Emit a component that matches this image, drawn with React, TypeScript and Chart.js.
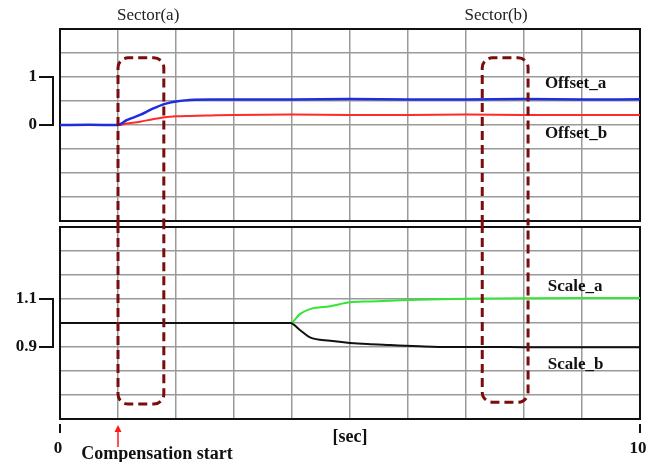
import { useEffect, useRef } from 'react';
import { Chart, registerables } from 'chart.js';

Chart.register(...registerables);

// ---- data ----
const offsetTime = [0, 0.5, 1.0, 1.15, 1.38, 1.6, 1.81, 2.0, 2.24, 2.6, 3, 4, 5, 6, 7, 8, 9, 10];
const offsetA = [0, 0.005, 0, 0.1, 0.21, 0.34, 0.44, 0.49, 0.52, 0.53, 0.53, 0.53, 0.54, 0.53, 0.53, 0.54, 0.53, 0.535];
const offsetB = [0, 0, 0, 0.03, 0.07, 0.12, 0.16, 0.18, 0.19, 0.2, 0.21, 0.22, 0.21, 0.21, 0.22, 0.21, 0.21, 0.21];

const scaleTime = [0, 1, 2, 3, 3.97, 4.14, 4.31, 4.66, 5.0, 5.3, 5.69, 6.2, 6.72, 7.5, 8, 9, 10];
const scaleA = [1, 1, 1, 1, 1, 1.038, 1.058, 1.07, 1.086, 1.09, 1.093, 1.097, 1.1, 1.102, 1.103, 1.104, 1.104];
const scaleB = [1, 1, 1, 1, 1, 0.97, 0.94, 0.926, 0.917, 0.912, 0.908, 0.903, 0.9, 0.9, 0.899, 0.899, 0.899];

const sectors = [
  { name: 'Sector(a)', from: 1.0, to: 1.79, labelX: 1.52 },
  { name: 'Sector(b)', from: 7.28, to: 8.07, labelX: 7.52 },
];
const compensationStart = 1.0;

const FONT = "'Liberation Serif', 'Times New Roman', serif";
const BOX_COLOR = '#7a0c0c';
const GRID_COLOR = '#9a9a9a';

const W = 653;
const TOP_H = 224;
const BOT_H = 238;

function toXY(xs: number[], ys: number[]) {
  return xs.map((x, i) => ({ x, y: ys[i] }));
}

function boxPath(ctx: CanvasRenderingContext2D, x1: number, x2: number, yEdge: number, yOpen: number, r: number) {
  const dir = yOpen > yEdge ? 1 : -1;
  ctx.beginPath();
  ctx.moveTo(x1, yOpen);
  ctx.lineTo(x1, yEdge + dir * r);
  ctx.arcTo(x1, yEdge, x1 + r, yEdge, r);
  ctx.lineTo(x2 - r, yEdge);
  ctx.arcTo(x2, yEdge, x2, yEdge + dir * r, r);
  ctx.lineTo(x2, yOpen);
  ctx.stroke();
}

function bracket(ctx: CanvasRenderingContext2D, yA: number, yB: number) {
  ctx.save();
  ctx.strokeStyle = '#111';
  ctx.lineWidth = 2;
  ctx.beginPath();
  ctx.moveTo(39, yA);
  ctx.lineTo(53, yA);
  ctx.lineTo(53, yB);
  ctx.lineTo(39, yB);
  ctx.stroke();
  ctx.restore();
}

function frame(chart: any) {
  const { ctx, chartArea: a } = chart;
  ctx.save();
  ctx.strokeStyle = '#111';
  ctx.lineWidth = 2;
  ctx.strokeRect(a.left, a.top, a.right - a.left, a.bottom - a.top);
  ctx.restore();
}

const topPlugin = {
  id: 'topDecor',
  beforeDatasetsDraw(chart: any) {
    frame(chart);
  },
  afterDraw(chart: any) {
    const { ctx } = chart;
    const xs = chart.scales.x;
    const ys = chart.scales.y;
    bracket(ctx, ys.getPixelForValue(1), ys.getPixelForValue(0));
    ctx.save();
    ctx.fillStyle = '#222';
    ctx.font = `17px ${FONT}`;
    ctx.textAlign = 'center';
    ctx.textBaseline = 'middle';
    sectors.forEach((s) => ctx.fillText(s.name, xs.getPixelForValue(s.labelX), 16));
    ctx.strokeStyle = BOX_COLOR;
    ctx.lineWidth = 3;
    ctx.setLineDash([9, 5]);
    sectors.forEach((s) =>
      boxPath(ctx, xs.getPixelForValue(s.from), xs.getPixelForValue(s.to), ys.getPixelForValue(1.4), chart.height, 10)
    );
    ctx.setLineDash([]);
    ctx.fillStyle = '#111';
    ctx.font = `bold 17px ${FONT}`;
    ctx.textAlign = 'left';
    ctx.fillText('Offset_a', xs.getPixelForValue(8.36), ys.getPixelForValue(0.87));
    ctx.fillText('Offset_b', xs.getPixelForValue(8.36), ys.getPixelForValue(-0.17));
    ctx.restore();
  },
};

const bottomPlugin = {
  id: 'bottomDecor',
  beforeDatasetsDraw(chart: any) {
    frame(chart);
  },
  afterDraw(chart: any) {
    const { ctx, chartArea } = chart;
    const xs = chart.scales.x;
    const ys = chart.scales.y;
    bracket(ctx, ys.getPixelForValue(1.1), ys.getPixelForValue(0.9));
    ctx.save();
    ctx.strokeStyle = BOX_COLOR;
    ctx.lineWidth = 3;
    ctx.setLineDash([9, 5]);
    sectors.forEach((s, i) =>
      boxPath(ctx, xs.getPixelForValue(s.from), xs.getPixelForValue(s.to), ys.getPixelForValue(i === 0 ? 0.662 : 0.67), 0, 10)
    );
    ctx.setLineDash([]);
    // end tick marks
    ctx.strokeStyle = '#111';
    ctx.lineWidth = 2;
    [0, 10].forEach((v) => {
      const x = xs.getPixelForValue(v);
      ctx.beginPath();
      ctx.moveTo(x, chartArea.bottom + 5);
      ctx.lineTo(x, chartArea.bottom + 14);
      ctx.stroke();
    });
    // arrow
    const ax = xs.getPixelForValue(compensationStart);
    const tip = chartArea.bottom + 6;
    ctx.strokeStyle = '#ff1a1a';
    ctx.fillStyle = '#ff1a1a';
    ctx.lineWidth = 1.5;
    ctx.beginPath();
    ctx.moveTo(ax, tip + 3);
    ctx.lineTo(ax, tip + 22);
    ctx.stroke();
    ctx.beginPath();
    ctx.moveTo(ax, tip);
    ctx.lineTo(ax - 3.5, tip + 7);
    ctx.lineTo(ax + 3.5, tip + 7);
    ctx.closePath();
    ctx.fill();
    ctx.fillStyle = '#111';
    ctx.font = `bold 18px ${FONT}`;
    ctx.textAlign = 'center';
    ctx.textBaseline = 'middle';
    ctx.fillText('Compensation start', 157, chartArea.bottom + 35);
    ctx.fillText('[sec]', xs.getPixelForValue(5.0), chartArea.bottom + 18);
    ctx.font = `bold 17px ${FONT}`;
    ctx.textAlign = 'left';
    ctx.fillText('Scale_a', xs.getPixelForValue(8.41), ys.getPixelForValue(1.15));
    ctx.fillText('Scale_b', xs.getPixelForValue(8.41), ys.getPixelForValue(0.825));
    ctx.restore();
  },
};

function zeroPad(s: any) {
  s.paddingTop = 0;
  s.paddingBottom = 0;
  s.paddingLeft = 0;
  s.paddingRight = 0;
}

function xAxis(showLabels: boolean, h: number) {
  return {
    type: 'linear',
    min: 0,
    max: 10,
    ticks: {
      display: showLabels,
      stepSize: 1,
      autoSkip: false,
      maxRotation: 0,
      padding: 19,
      labelOffset: -2,
      color: '#111',
      font: { family: FONT, size: 17, weight: 'bold' },
      callback: (v: number) => (v === 0 ? '0' : v === 10 ? '10' : ''),
    },
    grid: { color: GRID_COLOR, lineWidth: 1.5, drawTicks: false },
    border: { display: false },
    afterFit: (s: any) => {
      s.height = h;
      zeroPad(s);
    },
  };
}

function yAxis(min: number, max: number, step: number, labels: number[]) {
  return {
    type: 'linear',
    min,
    max,
    ticks: {
      stepSize: step,
      autoSkip: false,
      padding: 23,
      color: '#111',
      font: { family: FONT, size: 17, weight: 'bold' },
      callback: (v: number) => {
        const hit = labels.find((l) => Math.abs(l - v) < 1e-6);
        return hit === undefined ? '' : String(hit);
      },
    },
    grid: { color: GRID_COLOR, lineWidth: 1.5, drawTicks: false },
    border: { display: false },
    afterFit: (s: any) => {
      s.width = 60;
      zeroPad(s);
    },
  };
}

function lineDs(label: string, data: any[], color: string, width: number) {
  return {
    label,
    data,
    borderColor: color,
    backgroundColor: color,
    borderWidth: width,
    pointRadius: 0,
    cubicInterpolationMode: 'monotone',
    fill: false,
  };
}

export default function App() {
  const topRef = useRef<HTMLCanvasElement>(null);
  const botRef = useRef<HTMLCanvasElement>(null);

  useEffect(() => {
    document.body.style.margin = '0';
    const common = {
      responsive: false,
      animation: false,
      plugins: { legend: { display: false }, tooltip: { enabled: false } },
    };
    const top = new Chart(topRef.current as HTMLCanvasElement, {
      type: 'line',
      data: {
        datasets: [
          lineDs('Offset_a', toXY(offsetTime, offsetA), '#1f2de0', 2.5),
          lineDs('Offset_b', toXY(offsetTime, offsetB), '#ff2a2a', 2),
        ],
      },
      options: {
        ...common,
        layout: { autoPadding: false, padding: { top: 29, bottom: 3, left: 0, right: 13 } },
        scales: {
          x: xAxis(false, 0),
          y: yAxis(-2, 2, 0.5, [1, 0]),
        },
      } as any,
      plugins: [topPlugin],
    });
    const bottom = new Chart(botRef.current as HTMLCanvasElement, {
      type: 'line',
      data: {
        datasets: [
          lineDs('Scale_b', toXY(scaleTime, scaleB), '#111111', 2),
          lineDs('Scale_a', toXY(scaleTime, scaleA), '#33e633', 2),
        ],
      },
      options: {
        ...common,
        layout: { autoPadding: false, padding: { top: 3, bottom: 0, left: 0, right: 13 } },
        scales: {
          x: xAxis(true, 43),
          y: yAxis(0.6, 1.4, 0.1, [1.1, 0.9]),
        },
      } as any,
      plugins: [bottomPlugin],
    });
    return () => {
      top.destroy();
      bottom.destroy();
    };
  }, []);

  return (
    <div style={{ position: 'fixed', left: 0, top: 0, width: W, height: TOP_H + BOT_H, background: '#fff' }}>
      <canvas ref={topRef} width={W} height={TOP_H} style={{ position: 'absolute', left: 0, top: 0 }} />
      <canvas ref={botRef} width={W} height={BOT_H} style={{ position: 'absolute', left: 0, top: TOP_H }} />
    </div>
  );
}
